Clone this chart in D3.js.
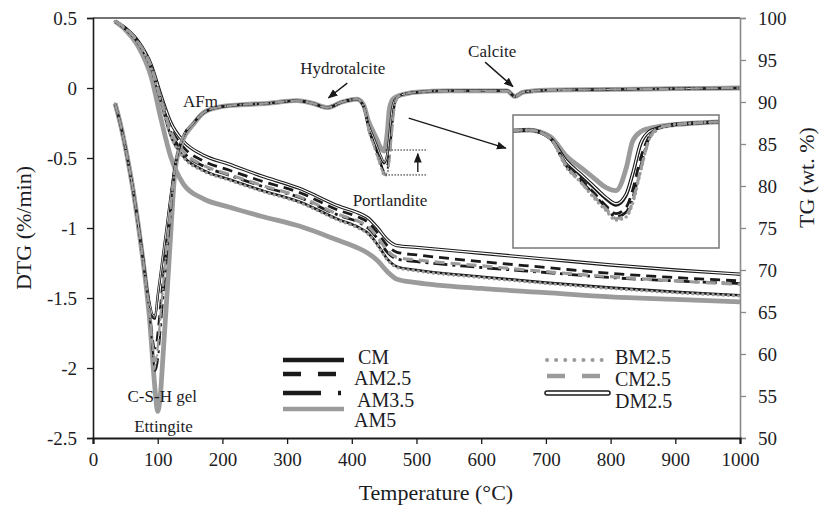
<!DOCTYPE html>
<html>
<head>
<meta charset="utf-8">
<script src="https://cdn.jsdelivr.net/npm/d3@7"></script>
<style>
  body { margin: 0; background: #fff; }
  svg { display: block; }
  text { font-family: 'Liberation Serif', 'Times New Roman', serif; fill: #1c1c24; }
</style>
</head>
<body>
<svg width="821" height="506"></svg>
<script>
'use strict'

// ---- data ----
const names = ['CM', 'AM2.5', 'AM3.5', 'AM5', 'BM2.5', 'CM2.5', 'DM2.5']

const xTicks = [0, 100, 200, 300, 400, 500, 600, 700, 800, 900, 1000]
const dtgTicks = [0.5, 0, -0.5, -1, -1.5, -2, -2.5]
const tgTicks = [100, 95, 90, 85, 80, 75, 70, 65, 60, 55, 50]

// DTG (%/min), left axis
const dtgTemp = [34, 42, 52, 62, 70, 77, 83, 88, 92, 96, 100, 104, 108, 114, 120, 127, 139, 155, 170, 191,
  227, 269, 315, 340, 362, 385, 408, 418, 426, 433, 439, 445, 450, 455, 458, 462, 466, 470, 476, 485,
  500, 550, 600, 640, 652, 665, 700, 800, 900, 1000]

const dtgCM = [-0.11, -0.25, -0.47, -0.73, -0.98, -1.21, -1.42, -1.56, -1.64, -1.65, -1.50, -1.36, -1.22, -1.00, -0.78, -0.55, -0.35, -0.25, -0.18, -0.14,
  -0.12, -0.11, -0.09, -0.11, -0.14, -0.10, -0.08, -0.13, -0.27, -0.36, -0.43, -0.50, -0.54, -0.48, -0.36, -0.17, -0.09, -0.07, -0.05, -0.04,
  -0.03, -0.02, -0.02, -0.02, -0.06, -0.03, -0.015, -0.01, -0.005, 0]
const dtgAM25 = [-0.11, -0.25, -0.47, -0.73, -0.98, -1.21, -1.43, -1.60, -1.78, -1.86, -1.74, -1.55, -1.36, -1.08, -0.84, -0.56, -0.35, -0.25, -0.18, -0.14,
  -0.12, -0.11, -0.09, -0.11, -0.14, -0.10, -0.08, -0.13, -0.29, -0.38, -0.46, -0.54, -0.59, -0.55, -0.45, -0.25, -0.12, -0.07, -0.05, -0.04,
  -0.03, -0.02, -0.02, -0.02, -0.06, -0.03, -0.015, -0.01, -0.005, 0]
const dtgAM35 = [-0.11, -0.25, -0.47, -0.73, -0.98, -1.22, -1.44, -1.64, -1.86, -2.02, -1.95, -1.75, -1.52, -1.20, -0.90, -0.56, -0.35, -0.25, -0.18, -0.14,
  -0.12, -0.11, -0.09, -0.11, -0.14, -0.10, -0.08, -0.13, -0.30, -0.39, -0.47, -0.55, -0.61, -0.58, -0.50, -0.30, -0.13, -0.07, -0.05, -0.04,
  -0.03, -0.02, -0.02, -0.02, -0.06, -0.03, -0.015, -0.01, -0.005, 0]
const dtgAM5 = [-0.11, -0.25, -0.47, -0.73, -0.98, -1.22, -1.45, -1.68, -1.93, -2.16, -2.31, -2.20, -1.93, -1.50, -1.05, -0.58, -0.37, -0.26, -0.18, -0.14,
  -0.12, -0.11, -0.09, -0.11, -0.14, -0.10, -0.08, -0.12, -0.24, -0.31, -0.37, -0.43, -0.45, -0.31, -0.15, -0.09, -0.07, -0.06, -0.05, -0.04,
  -0.03, -0.02, -0.02, -0.02, -0.06, -0.03, -0.015, -0.01, -0.005, 0]
const dtgBM25 = [-0.11, -0.25, -0.47, -0.73, -0.98, -1.22, -1.44, -1.63, -1.84, -1.98, -1.88, -1.66, -1.44, -1.13, -0.87, -0.56, -0.35, -0.25, -0.18, -0.14,
  -0.12, -0.11, -0.09, -0.11, -0.14, -0.10, -0.08, -0.13, -0.31, -0.40, -0.49, -0.57, -0.63, -0.61, -0.53, -0.33, -0.14, -0.08, -0.05, -0.04,
  -0.03, -0.02, -0.02, -0.02, -0.06, -0.03, -0.015, -0.01, -0.005, 0]
const dtgCM25 = [-0.11, -0.25, -0.47, -0.73, -0.98, -1.21, -1.43, -1.62, -1.82, -1.95, -1.85, -1.64, -1.42, -1.12, -0.86, -0.56, -0.35, -0.25, -0.18, -0.14,
  -0.12, -0.11, -0.09, -0.11, -0.14, -0.10, -0.08, -0.13, -0.30, -0.40, -0.48, -0.56, -0.62, -0.60, -0.52, -0.32, -0.14, -0.07, -0.05, -0.04,
  -0.03, -0.02, -0.02, -0.02, -0.06, -0.03, -0.015, -0.01, -0.005, 0]
const dtgDM25 = [-0.11, -0.25, -0.47, -0.73, -0.97, -1.20, -1.41, -1.55, -1.62, -1.63, -1.48, -1.34, -1.20, -0.99, -0.77, -0.55, -0.35, -0.25, -0.18, -0.14,
  -0.12, -0.11, -0.09, -0.11, -0.14, -0.10, -0.08, -0.13, -0.27, -0.35, -0.42, -0.49, -0.53, -0.47, -0.35, -0.16, -0.09, -0.07, -0.05, -0.04,
  -0.03, -0.02, -0.02, -0.02, -0.06, -0.03, -0.015, -0.01, -0.005, 0]

// TG (wt. %), right axis
const tgTemp = [34, 50, 70, 90, 105, 120, 140, 170, 210, 260, 320, 380, 410, 425, 440, 455, 470, 500, 600, 700, 800, 900, 1000]

const tgCM = [99.6, 98.7, 97.0, 94.0, 90.0, 86.0, 83.5, 81.9, 80.8, 79.5, 78.1, 76.0, 75.1, 74.4, 73.0, 71.3, 70.4, 70.0, 69.2, 68.5, 67.9, 67.4, 67.0]
const tgAM25 = [99.6, 98.8, 97.2, 94.3, 90.5, 87.0, 84.6, 83.0, 81.9, 80.6, 79.2, 77.1, 76.3, 75.7, 74.4, 72.9, 72.1, 71.8, 71.0, 70.3, 69.6, 69.1, 68.7]
const tgAM35 = [99.6, 98.8, 97.1, 94.2, 90.3, 86.5, 84.0, 82.4, 81.3, 80.0, 78.6, 76.5, 75.7, 75.0, 73.7, 72.1, 71.3, 71.0, 70.3, 69.7, 69.1, 68.7, 68.4]
const tgAM5 = [99.6, 98.6, 96.6, 93.0, 88.0, 83.5, 80.2, 78.5, 77.5, 76.4, 75.2, 73.5, 72.6, 72.0, 71.1, 69.8, 68.9, 68.5, 67.8, 67.3, 66.8, 66.5, 66.2]
const tgBM25 = [99.6, 98.7, 97.0, 94.0, 90.0, 86.0, 83.4, 81.8, 80.7, 79.4, 78.0, 75.9, 75.0, 74.3, 72.9, 71.2, 70.3, 69.9, 69.1, 68.4, 67.8, 67.3, 66.9]
const tgCM25 = [99.6, 98.8, 97.1, 94.2, 90.3, 86.6, 84.1, 82.5, 81.4, 80.1, 78.7, 76.6, 75.8, 75.2, 73.9, 72.3, 71.5, 71.2, 70.5, 69.8, 69.2, 68.7, 68.3]
const tgDM25 = [99.6, 98.8, 97.2, 94.4, 90.8, 87.6, 85.3, 83.7, 82.6, 81.2, 79.7, 77.6, 76.8, 76.2, 75.0, 73.6, 72.9, 72.7, 72.0, 71.3, 70.6, 70.0, 69.5]

const dtgValues = { 'CM': dtgCM, 'AM2.5': dtgAM25, 'AM3.5': dtgAM35, 'AM5': dtgAM5, 'BM2.5': dtgBM25, 'CM2.5': dtgCM25, 'DM2.5': dtgDM25 }
const tgValues = { 'CM': tgCM, 'AM2.5': tgAM25, 'AM3.5': tgAM35, 'AM5': tgAM5, 'BM2.5': tgBM25, 'CM2.5': tgCM25, 'DM2.5': tgDM25 }

// ---- layout / styles ----
const margin = { top: 18, right: 81, bottom: 68, left: 93 }
const W = 821, H = 506
const black = '#1a1a1a', grey = '#9b9b9b'

const styles = {
  'CM': { stroke: black, width: 2.6, dash: null },
  'AM2.5': { stroke: black, width: 2.8, dash: '10,6' },
  'AM3.5': { stroke: black, width: 2.8, dash: '14,5,3,5' },
  'AM5': { stroke: grey, width: 4.8, dash: null },
  'BM2.5': { stroke: grey, width: 3.2, dash: '0.1,5', cap: 'round' },
  'CM2.5': { stroke: grey, width: 3.2, dash: '10,6' },
  'DM2.5': { stroke: black, width: 3.4, dash: null, double: true }
}
const order = ['AM5', 'CM', 'DM2.5', 'AM2.5', 'AM3.5', 'CM2.5', 'BM2.5']

const svg = d3.select('svg')

const x = d3.scaleLinear().domain([0, 1000]).range([margin.left, W - margin.right])
const yL = d3.scaleLinear().domain([-2.5, 0.5]).range([H - margin.bottom, margin.top])
const yR = d3.scaleLinear().domain([50, 100]).range([H - margin.bottom, margin.top])

// top frame
svg.append('line')
  .attr('x1', x(0)).attr('x2', x(1000))
  .attr('y1', yL(0.5)).attr('y2', yL(0.5))
  .attr('stroke', '#444').attr('stroke-width', 1.5)

// thin: scale for the overlapping DTG traces (grey AM5 keeps its width)
function drawSeries(g, temps, values, xs, ys, name, thin) {
  const st = styles[name]
  const k = name === 'AM5' ? 1 : thin
  const pts = temps.map((t, i) => [t, values[i]])
  const line = d3.line()
    .x(d => xs(d[0]))
    .y(d => ys(d[1]))
    .curve(d3.curveMonotoneX)
  const p = g.append('path')
    .datum(pts)
    .attr('d', line)
    .attr('fill', 'none')
    .attr('stroke', st.stroke)
    .attr('stroke-width', st.width * k)
    .attr('stroke-linejoin', 'round')
    .attr('stroke-linecap', st.cap || 'butt')
  if (st.dash) p.attr('stroke-dasharray', st.dash)
  if (st.double) {
    g.append('path')
      .datum(pts)
      .attr('d', line)
      .attr('fill', 'none')
      .attr('stroke', '#fff')
      .attr('stroke-width', 1.2 * k)
  }
}

const plot = svg.append('g').attr('class', 'curves')
order.forEach(n => drawSeries(plot, tgTemp, tgValues[n], x, yR, n, 1))
order.forEach(n => drawSeries(plot, dtgTemp, dtgValues[n], x, yL, n, 0.7))

// ---- axes ----
const axL = svg.append('g')
  .attr('transform', 'translate(' + x(0) + ',0)')
  .call(d3.axisLeft(yL).tickValues(dtgTicks).tickFormat(d => String(d)).tickSize(6).tickPadding(10))
axL.select('.domain').attr('stroke', black).attr('stroke-width', 1.6)
axL.selectAll('.tick line').attr('stroke', black).attr('stroke-width', 1.3)

const axR = svg.append('g')
  .attr('transform', 'translate(' + x(1000) + ',0)')
  .call(d3.axisRight(yR).tickValues(tgTicks).tickFormat(d => String(d)).tickSize(6).tickPadding(12))
axR.select('.domain').attr('stroke', '#8a8a8a').attr('stroke-width', 1.6)
axR.selectAll('.tick line').attr('stroke', '#8a8a8a').attr('stroke-width', 1.3)

const axB = svg.append('g')
  .attr('transform', 'translate(0,' + yL(-2.5) + ')')
  .call(d3.axisBottom(x).tickValues(xTicks).tickFormat(d => String(d)).tickSize(6).tickPadding(9))
axB.select('.domain').attr('stroke', black).attr('stroke-width', 2.2)
axB.selectAll('.tick line').attr('stroke', black).attr('stroke-width', 1.3)

svg.selectAll('.tick text')
  .style('font-family', "'Liberation Serif', 'Times New Roman', serif")
  .style('font-size', '19px')
  .attr('fill', '#1c1c24')

svg.append('text')
  .attr('transform', 'translate(23,' + yL(-1) + ') rotate(-90)')
  .attr('text-anchor', 'middle')
  .attr('dy', '0.35em')
  .style('font-size', '22px')
  .text('DTG (%/min)')

svg.append('text')
  .attr('transform', 'translate(806,' + yR(81) + ') rotate(-90)')
  .attr('text-anchor', 'middle')
  .attr('dy', '0.35em')
  .style('font-size', '22px')
  .text('TG (wt. %)')

svg.append('text')
  .attr('x', x(530)).attr('y', 500)
  .attr('text-anchor', 'middle')
  .style('font-size', '22px')
  .text('Temperature (°C)')

// ---- annotations (data units) ----
const defs = svg.append('defs')
defs.append('marker')
  .attr('id', 'head')
  .attr('viewBox', '0 0 10 10')
  .attr('refX', 9).attr('refY', 5)
  .attr('markerWidth', 7).attr('markerHeight', 7)
  .attr('orient', 'auto')
  .append('path').attr('d', 'M0,1 L10,5 L0,9 Z').attr('fill', black)

const labels = [
  { text: 'Hydrotalcite', t: 386, v: 0.1 },
  { text: 'Calcite', t: 617, v: 0.22 },
  { text: 'AFm', t: 166, v: -0.135 },
  { text: 'Portlandite', t: 459, v: -0.84 },
  { text: 'C-S-H gel', t: 107, v: -2.24 },
  { text: 'Ettingite', t: 109, v: -2.455 }
]
svg.selectAll('.anno')
  .data(labels)
  .enter().append('text')
  .attr('class', 'anno')
  .attr('x', d => x(d.t))
  .attr('y', d => yL(d.v))
  .attr('text-anchor', 'middle')
  .style('font-size', '17px')
  .text(d => d.text)

const arrows = [
  { t1: 393, v1: 0.035, t2: 364, v2: -0.07 },
  { t1: 606, v1: 0.185, t2: 649, v2: 0.01 },
  { t1: 488, v1: -0.215, t2: 638, v2: -0.43 },
  { t1: 502, v1: -0.6, t2: 502, v2: -0.47 }
]
svg.selectAll('.arrow')
  .data(arrows)
  .enter().append('line')
  .attr('class', 'arrow')
  .attr('x1', d => x(d.t1)).attr('y1', d => yL(d.v1))
  .attr('x2', d => x(d.t2)).attr('y2', d => yL(d.v2))
  .attr('stroke', black).attr('stroke-width', 1.4)
  .attr('marker-end', 'url(#head)')

const refLevels = [-0.443, -0.621]
svg.selectAll('.ref')
  .data(refLevels)
  .enter().append('line')
  .attr('class', 'ref')
  .attr('x1', x(452)).attr('x2', x(517))
  .attr('y1', d => yL(d)).attr('y2', d => yL(d))
  .attr('stroke', black).attr('stroke-width', 1)
  .attr('stroke-dasharray', '1.5,1.5')

// ---- inset: zoom on the portlandite peak ----
const ix = d3.scaleLinear().domain([400, 500]).range([513, 719])
const iy = d3.scaleLinear().domain([-0.8, 0.012]).range([248, 115])

defs.append('clipPath').attr('id', 'insetClip')
  .append('rect')
  .attr('x', ix(400)).attr('y', iy(0.012))
  .attr('width', ix(500) - ix(400)).attr('height', iy(-0.8) - iy(0.012))

svg.append('rect')
  .attr('x', ix(400)).attr('y', iy(0.012))
  .attr('width', ix(500) - ix(400)).attr('height', iy(-0.8) - iy(0.012))
  .attr('fill', '#fff')

const inset = svg.append('g').attr('clip-path', 'url(#insetClip)')
order.forEach(n => drawSeries(inset, dtgTemp, dtgValues[n], ix, iy, n, 1))

svg.append('rect')
  .attr('x', ix(400)).attr('y', iy(0.012))
  .attr('width', ix(500) - ix(400)).attr('height', iy(-0.8) - iy(0.012))
  .attr('fill', 'none')
  .attr('stroke', '#777').attr('stroke-width', 1.5)

// ---- legend ----
const legendItems = [
  { name: 'CM', lx: 283, ly: 360, ty: 364, tx: 358, dash: null, w: 4.5 },
  { name: 'AM2.5', lx: 283, ly: 374, ty: 385, tx: 354, dash: '18,17', w: 4.5 },
  { name: 'AM3.5', lx: 283, ly: 393, ty: 407, tx: 357, dash: '38,17,3,100', w: 4.5 },
  { name: 'AM5', lx: 283, ly: 409, ty: 427, tx: 354, dash: null, w: 4.5 },
  { name: 'BM2.5', lx: 547, ly: 360, ty: 364, tx: 615, dash: '0.1,9', w: 4, cap: 'round' },
  { name: 'CM2.5', lx: 547, ly: 376, ty: 386, tx: 615, dash: '18,17', w: 4.5 },
  { name: 'DM2.5', lx: 547, ly: 393, ty: 408, tx: 615, dash: null, w: 5.5, cap: 'round' }
]
const leg = svg.append('g').attr('class', 'legend')
legendItems.forEach(d => {
  const st = styles[d.name]
  const l = leg.append('line')
    .attr('x1', d.lx).attr('x2', d.lx + 61)
    .attr('y1', d.ly).attr('y2', d.ly)
    .attr('stroke', st.stroke)
    .attr('stroke-width', d.w)
    .attr('stroke-linecap', d.cap || 'butt')
  if (d.dash) l.attr('stroke-dasharray', d.dash)
  if (st.double) {
    leg.append('line')
      .attr('x1', d.lx).attr('x2', d.lx + 61)
      .attr('y1', d.ly).attr('y2', d.ly)
      .attr('stroke', '#fff').attr('stroke-width', 2.5)
      .attr('stroke-linecap', 'round')
  }
  leg.append('text')
    .attr('x', d.tx).attr('y', d.ty)
    .style('font-size', '20px')
    .text(d.name)
})
</script>
</body>
</html>
